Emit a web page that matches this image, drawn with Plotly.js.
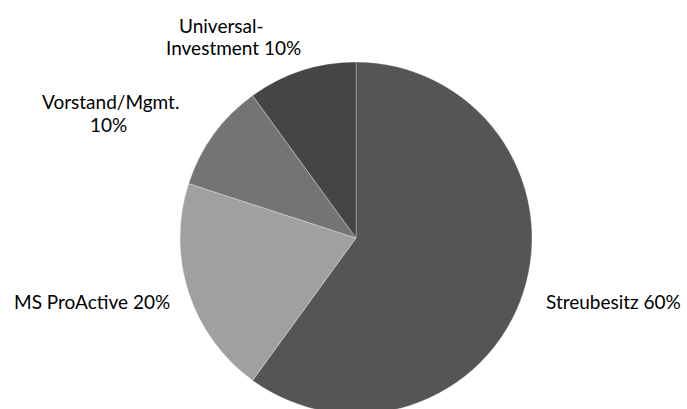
<!DOCTYPE html>
<html>
<head>
<meta charset="utf-8">
<script src="https://cdn.plot.ly/plotly-3.0.1.min.js"></script>
<style>
html, body { margin: 0; padding: 0; overflow: hidden; background: #fff; }
#chart { width: 687px; height: 420px; }
</style>
</head>
<body>
<div id="chart"></div>
<script>
// Data
const labels = ["Streubesitz", "MS ProActive", "Vorstand/Mgmt.", "Universal-Investment"];
const labelLines = [["Streubesitz 60%"], ["MS ProActive 20%"], ["Vorstand/Mgmt.", "10%"], ["Universal-", "Investment 10%"]];
const values = [60, 20, 10, 10];
const colors = ["#555555", "#a0a0a0", "#747474", "#454545"];

// Layout geometry (pixels)
const W = 687, H = 420;
const cx = 356, cy = 238, R = 176;
const mt = cy - R, mb = H - (cy + R);
const plotH = H - mt - mb;
const linePos = [
  [[613.5, 301]],
  [[91.5, 301]],
  [[110, 101], [108.5, 124]],
  [[221.5, 26], [233.5, 48]]
];

const fontFamily = "Lato, 'Open Sans', sans-serif";

const annotations = [];
labelLines.forEach((lines, i) => {
  lines.forEach((t, j) => {
    annotations.push({
      text: t,
      xref: "paper", yref: "paper",
      x: linePos[i][j][0] / W,
      y: (H - mb - linePos[i][j][1]) / plotH,
      xanchor: "center", yanchor: "middle",
      align: "center",
      showarrow: false,
      font: { family: fontFamily, size: 19, color: "#000" }
    });
  });
});

const trace = {
  type: "pie",
  labels: labels,
  values: values,
  sort: false,
  direction: "clockwise",
  rotation: 0,
  textinfo: "none",
  hoverinfo: "label+percent",
  marker: { colors: colors, line: { color: "rgba(255,255,255,0.3)", width: 1 } },
  domain: { x: [(cx - R) / W, (cx + R) / W], y: [0, 1] },
  showlegend: false
};

const layout = {
  width: W, height: H,
  margin: { l: 0, r: 0, t: mt, b: mb, pad: 0 },
  paper_bgcolor: "#fff",
  plot_bgcolor: "#fff",
  showlegend: false,
  annotations: annotations,
  font: { family: fontFamily }
};

Plotly.newPlot("chart", [trace], layout, { displayModeBar: false, staticPlot: true });
</script>
</body>
</html>
